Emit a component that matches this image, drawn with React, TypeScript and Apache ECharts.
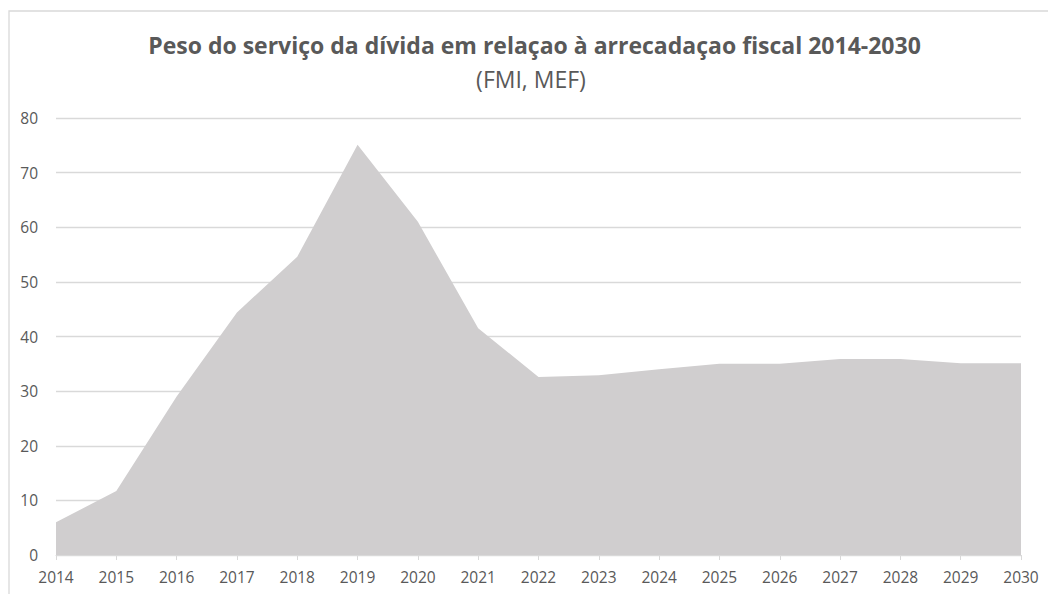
import React, { useEffect, useRef } from "react";
import * as echarts from "echarts";

const years = ["2014","2015","2016","2017","2018","2019","2020","2021","2022","2023","2024","2025","2026","2027","2028","2029","2030"];
const debtServiceShare = [6, 11.7, 29, 44.4, 54.6, 75.1, 61, 41.5, 32.6, 32.9, 34, 35, 35, 35.9, 35.9, 35.1, 35.1];
const titleText = "Peso do serviço da dívida em relaçao à arrecadaçao fiscal 2014-2030";
const subtitleText = "(FMI, MEF)";

const FONT = "'Open Sans', Lato, sans-serif";

export default function App() {
  const ref = useRef<HTMLDivElement>(null);
  useEffect(() => {
    const chart = echarts.init(ref.current!, null, { renderer: "svg" });
    chart.setOption({
      animation: false,
      backgroundColor: "#ffffff",
      graphic: [
        { type: "rect", shape: { x: 9, y: 11, width: 1060, height: 600 }, style: { fill: "none", stroke: "#d9d9d9", lineWidth: 1.3 }, silent: true },
        { type: "text", x: 534.5, y: 45, style: { text: titleText, fill: "#595959", font: `bold 23px ${FONT}`, textAlign: "center", textVerticalAlign: "middle" } },
        { type: "text", x: 531, y: 79, style: { text: subtitleText, fill: "#595959", font: `23px ${FONT}`, textAlign: "center", textVerticalAlign: "middle" } },
      ],
      grid: { left: 56, right: 27, top: 118, bottom: 39, containLabel: false },
      xAxis: {
        type: "category",
        data: years,
        boundaryGap: false,
        axisLine: { lineStyle: { color: "#d9d9d9", width: 1 } },
        axisTick: { show: true, length: 5, lineStyle: { color: "#d9d9d9" }, alignWithLabel: true },
        axisLabel: { color: "#595959", fontSize: 15.5, fontFamily: FONT, margin: 14 },
        splitLine: { show: false },
      },
      yAxis: {
        type: "value",
        min: 0,
        max: 80,
        interval: 10,
        axisLine: { show: false },
        axisTick: { show: false },
        axisLabel: { color: "#595959", fontSize: 15.5, fontFamily: FONT, margin: 18 },
        splitLine: { lineStyle: { color: "#d9d9d9", width: 1.3 } },
      },
      series: [
        {
          type: "line",
          data: debtServiceShare,
          symbol: "none",
          lineStyle: { width: 0 },
          areaStyle: { color: "#d0cecf", opacity: 1 },
        },
      ],
    });
    return () => chart.dispose();
  }, []);
  return <div ref={ref} style={{ position: "absolute", left: 0, top: 0, width: 1048, height: 594 }} />;
}
